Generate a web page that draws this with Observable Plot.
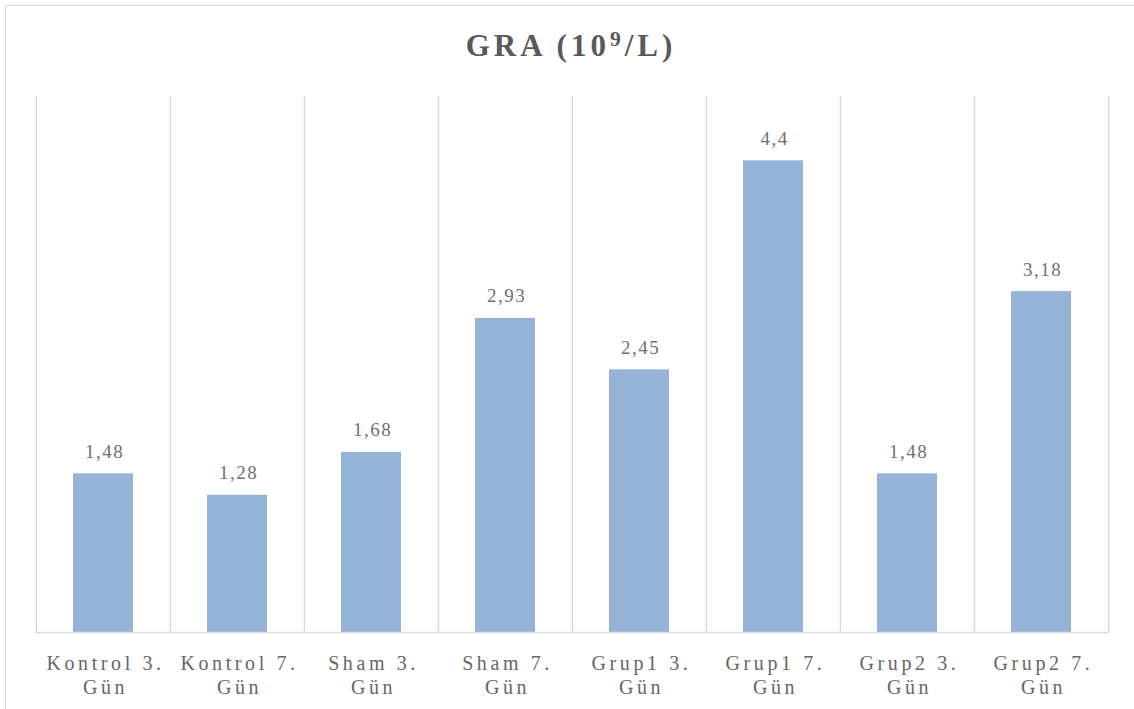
<!DOCTYPE html>
<html>
<head>
<meta charset="utf-8">
<script src="https://cdn.jsdelivr.net/npm/d3@7"></script>
<script src="https://cdn.jsdelivr.net/npm/@observablehq/plot@0.6"></script>
<style>
  html, body { margin: 0; padding: 0; background: #fff; }
  #wrap { position: relative; width: 1134px; height: 709px; overflow: hidden; background: #fff; }
  #frame { position: absolute; left: 5px; top: 5px; width: 1200px; height: 800px; border: 1.5px solid #d9d9d9; box-sizing: border-box; }
  #header { position: relative; height: 80px; }
  #title { position: absolute; left: 0; width: 1142px; top: 30px; height: 31px; line-height: 31px; text-align: center;
           font-family: "Liberation Serif", serif; font-weight: bold; font-size: 31px; color: #595959; letter-spacing: 4px; }
  #title sup { font-size: 0.7em; vertical-align: 0; position: relative; top: -0.45em; }
  #chart { position: relative; }
  g[aria-label="x-axis tick label"] text { letter-spacing: 3.6px; }
  g[aria-label="text"] text { letter-spacing: 1.5px; }
</style>
</head>
<body>
<div id="wrap">
  <div id="frame"></div>
  <div id="header"><div id="title">GRA (10<sup>9</sup>/L)</div></div>
  <div id="chart"></div>
</div>
<script>
const categories = ["Kontrol 3. Gün","Kontrol 7. Gün","Sham 3. Gün","Sham 7. Gün","Grup1 3. Gün","Grup1 7. Gün","Grup2 3. Gün","Grup2 7. Gün"];
const tickLabels = ["Kontrol 3.\nGün","Kontrol 7.\nGün","Sham 3.\nGün","Sham 7.\nGün","Grup1 3.\nGün","Grup1 7.\nGün","Grup2 3.\nGün","Grup2 7.\nGün"];
const values = [1.48, 1.28, 1.68, 2.93, 2.45, 4.4, 1.48, 3.18];
const valueLabels = ["1,48","1,28","1,68","2,93","2,45","4,4","1,48","3,18"];

const data = categories.map((c, i) => ({cat: c, value: values[i], label: valueLabels[i]}));

const W = 1134, ML = 35, MR = 25;
const step = (W - ML - MR) / categories.length;

const chart = Plot.plot({
  width: W,
  height: 629,
  marginTop: 16,
  marginBottom: 77,
  marginLeft: ML,
  marginRight: MR,
  style: {fontFamily: "Liberation Serif, serif", background: "transparent", overflow: "visible"},
  x: {type: "band", domain: categories, padding: 0, axis: null},
  y: {domain: [0, 5], axis: null},
  marks: [
    Plot.ruleX(categories, {x: d => d, y1: 0, y2: 5, dx: -step / 2, stroke: "#d9d9d9", strokeWidth: 1.5}),
    Plot.ruleX([categories[categories.length - 1]], {x: d => d, y1: 0, y2: 5, dx: step / 2, stroke: "#d9d9d9", strokeWidth: 1.5}),
    Plot.barY(data, {x: "cat", y: "value", fill: "#95b3d7", insetLeft: 37, insetRight: 37}),
    Plot.ruleY([0], {stroke: "#d9d9d9", strokeWidth: 1.5}),
    Plot.text(data, {x: "cat", y: "value", text: "label", lineAnchor: "bottom", dy: -16, dx: 1, fontSize: 19, fill: "#707070"}),
    Plot.axisX({
      tickSize: 0, tickPadding: 20, fontSize: 20, lineHeight: 1.2, fill: "#666666", label: null,
      tickFormat: d => tickLabels[categories.indexOf(d)], dx: 2
    })
  ]
});
document.getElementById("chart").appendChild(chart);
</script>
</body>
</html>
